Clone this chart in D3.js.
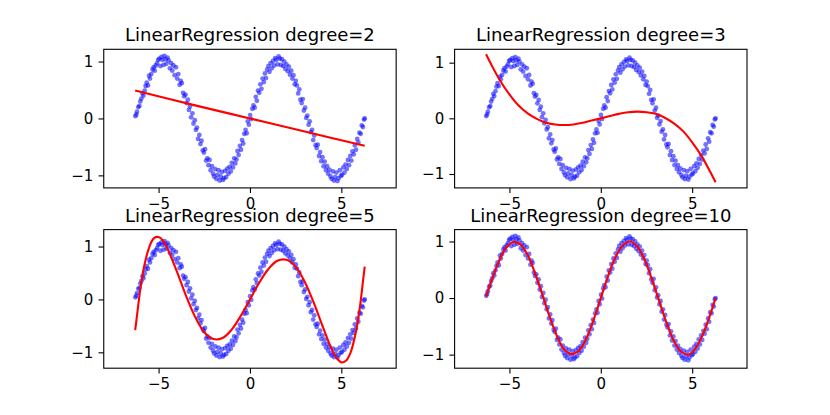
<!DOCTYPE html>
<html><head><meta charset="utf-8">
<script src="https://cdn.jsdelivr.net/npm/d3@7"></script>
<style>body{margin:0;background:#fff}svg{display:block}text{font-family:"DejaVu Sans",sans-serif}</style>
</head><body><svg id="c" width="830" height="415"></svg>
<script>
// ---- data ----
const pointX = [-6.27,-6.22,-6.18,-6.11,-6.05,-6.00,-5.94,-5.88,-5.83,-5.76,-5.71,-5.65,-5.58,-5.52,-5.47,-5.40,-5.33,-5.27,-5.21,-5.15,-5.08,-5.02,-4.96,-4.90,-4.84,-4.79,-4.73,-4.68,-4.62,-4.57,-4.51,-4.45,-4.38,-4.31,-4.25,-4.19,-4.12,-4.05,-3.98,-3.92,-3.85,-3.79,-3.73,-3.66,-3.60,-3.53,-3.47,-3.40,-3.34,-3.28,-3.22,-3.15,-3.09,-3.02,-2.96,-2.90,-2.84,-2.77,-2.71,-2.65,-2.58,-2.52,-2.46,-2.40,-2.33,-2.27,-2.21,-2.15,-2.08,-2.02,-1.96,-1.90,-1.84,-1.78,-1.72,-1.66,-1.60,-1.54,-1.48,-1.42,-1.36,-1.30,-1.24,-1.18,-1.11,-1.05,-0.99,-0.93,-0.86,-0.80,-0.74,-0.68,-0.62,-0.55,-0.49,-0.43,-0.37,-0.31,-0.24,-0.18,-0.12,-0.06,0.01,0.07,0.13,0.19,0.26,0.32,0.38,0.44,0.51,0.57,0.63,0.69,0.76,0.82,0.88,0.94,1.01,1.07,1.13,1.19,1.26,1.32,1.38,1.44,1.51,1.57,1.63,1.69,1.75,1.82,1.88,1.94,2.00,2.07,2.13,2.19,2.26,2.32,2.38,2.45,2.51,2.57,2.64,2.70,2.76,2.83,2.89,2.95,3.02,3.08,3.14,3.21,3.27,3.33,3.40,3.46,3.52,3.59,3.65,3.71,3.78,3.84,3.90,3.97,4.03,4.09,4.16,4.22,4.28,4.35,4.41,4.47,4.54,4.60,4.66,4.73,4.79,4.85,4.92,4.98,5.04,5.11,5.17,5.23,5.30,5.36,5.42,5.49,5.55,5.61,5.68,5.74,5.80,5.87,5.93,5.99,6.06,6.12,6.18,6.24,6.28];
const pointY = [0.04,0.07,0.12,0.20,0.22,0.30,0.35,0.44,0.40,0.49,0.57,0.63,0.58,0.75,0.70,0.78,0.86,0.90,0.84,0.93,0.97,1.03,
  1.05,0.92,1.08,1.03,0.94,1.10,1.04,0.96,1.07,1.02,0.88,0.97,0.84,0.93,0.76,0.90,0.70,0.78,0.59,0.66,0.62,0.45,0.39,0.42,
  0.27,0.33,0.15,0.21,0.02,0.09,-0.09,-0.03,-0.20,-0.16,-0.36,-0.29,-0.45,-0.39,-0.56,-0.60,-0.54,-0.74,-0.70,-0.82,-0.73,-0.91,-0.84,-0.97,
  -1.02,-0.89,-1.06,-0.99,-0.91,-1.09,-1.02,-0.94,-1.08,-1.05,-0.92,-1.03,-0.88,-0.97,-0.85,-0.93,-0.78,-0.86,-0.70,-0.79,-0.72,-0.57,-0.64,-0.48,-0.55,
  -0.38,-0.44,-0.27,-0.20,-0.26,-0.05,-0.11,0.06,-0.01,0.17,0.23,0.19,0.38,0.31,0.49,0.45,0.60,0.52,0.70,0.64,0.79,0.71,0.86,0.92,0.82,
  0.97,0.88,1.01,0.93,1.06,1.03,0.95,1.09,1.05,0.94,1.04,0.92,1.00,0.87,0.95,0.83,0.91,0.77,0.84,0.70,0.76,0.60,0.66,0.58,
  0.44,0.51,0.33,0.27,0.34,0.14,0.19,0.01,0.05,-0.11,-0.05,-0.24,-0.20,-0.38,-0.30,-0.47,-0.52,-0.46,-0.66,-0.59,-0.75,-0.68,-0.84,
  -0.76,-0.91,-0.84,-0.97,-0.90,-1.02,-1.06,-0.93,-1.09,-1.03,-0.95,-1.10,-1.05,-0.91,-1.01,-0.99,-0.86,-0.95,-0.81,-0.89,-0.73,-0.82,-0.66,
  -0.74,-0.58,-0.63,-0.47,-0.55,-0.36,-0.42,-0.25,-0.27,-0.12,-0.15,-0.02,0.00];

const degrees = [2, 3, 5, 10];
const fit2X = [-6.28, -3, 0, 3, 6.28];
const fit2Y = [0.49, 0.23, 0.0, -0.23, -0.48];
const fit3X = [-6.28,-6,-5.5,-5,-4.5,-4,-3.5,-3,-2.5,-2,-1.5,-1,-0.5,0,0.5,1,1.5,2,2.5,3,3.5,4,4.5,5,5.5,6,6.28];
const fit3Y = [1.15,0.97,0.67,0.43,0.23,0.09,-0.01,-0.08,-0.11,-0.12,-0.11,-0.08,-0.04,0,0.04,0.08,0.11,0.12,0.11,0.08,0.01,-0.09,-0.23,-0.43,-0.67,-0.97,-1.15];
const fit5X = [-6.28,-6.2,-6,-5.8,-5.5,-5.25,-5,-4.75,-4.5,-4,-3.5,-3,-2.5,-2,-1.5,-1,-0.5,0,0.5,1,1.5,2,2.5,3,3.5,4,4.5,4.75,5,5.25,5.5,5.8,6,6.2,6.28];
const fit5Y = [-0.58,-0.36,0.19,0.61,1.00,1.16,1.18,1.11,0.95,0.53,0.07,-0.33,-0.62,-0.75,-0.73,-0.57,-0.31,0,0.31,0.57,0.73,0.75,0.62,0.33,-0.07,-0.53,-0.96,-1.11,-1.19,-1.16,-1.01,-0.61,-0.19,0.39,0.62];
const fit10X = [-6.28,-6,-5.6,-5.2,-4.8,-4.4,-4,-3.6,-3.2,-2.8,-2.4,-2,-1.6,-1.2,-0.8,-0.4,0,0.4,0.8,1.2,1.6,2,2.4,2.8,3.2,3.6,4,4.4,4.8,5.2,5.6,6,6.28];
const fit10Y = [0.03,0.29,0.63,0.88,0.99,0.95,0.76,0.44,0.06,-0.33,-0.67,-0.91,-0.99,-0.93,-0.72,-0.39,0.0,0.39,0.72,0.93,1.0,0.91,0.67,0.33,-0.06,-0.44,-0.76,-0.95,-1.0,-0.88,-0.63,-0.28,0.0];

const xTicks = [-5, 0, 5];
const yTicks = [-1, 0, 1];
const xDomain = [-8, 8];
const yDomains = [[-1.22, 1.215], [-1.25, 1.24], [-1.30, 1.32], [-1.24, 1.21]];

// ---- layout ----
const svg = d3.select("#c");
const W = 292.4, H = 138.6;
const lefts = [103.75, 454.6], tops = [49.3, 229.6];
const fits = [[fit2X, fit2Y], [fit3X, fit3Y], [fit5X, fit5Y], [fit10X, fit10Y]];
const fmt = d => d < 0 ? "\u2212" + Math.abs(d) : String(d);
const pts = pointX.map((x, i) => [x, pointY[i]]);

degrees.forEach((deg, i) => {
  const col = i % 2, row = Math.floor(i / 2);
  const g = svg.append("g").attr("transform", `translate(${lefts[col]},${tops[row]})`);
  const x = d3.scaleLinear().domain(xDomain).range([0, W]);
  const y = d3.scaleLinear().domain(yDomains[i]).range([H, 0]);

  g.append("g").selectAll("circle").data(pts).join("circle")
    .attr("cx", d => x(d[0])).attr("cy", d => y(d[1])).attr("r", 2.4)
    .attr("fill", "#0000ff").attr("fill-opacity", 0.55);

  const [fx, fy] = fits[i];
  const line = d3.line().x(d => x(d[0])).y(d => y(d[1])).curve(d3.curveCatmullRom.alpha(0.5));
  g.append("path").datum(fx.map((v, k) => [v, fy[k]])).attr("d", line)
    .attr("fill", "none").attr("stroke", "#ff0000").attr("stroke-width", 2.1);

  const xa = g.append("g").attr("transform", `translate(0,${H})`)
    .call(d3.axisBottom(x).tickValues(xTicks).tickFormat(fmt).tickSize(5.2).tickPadding(5.2));
  const ya = g.append("g")
    .call(d3.axisLeft(y).tickValues(yTicks).tickFormat(fmt).tickSize(5.2).tickPadding(5.2));
  [xa, ya].forEach(a => {
    a.select(".domain").remove();
    a.selectAll("line").attr("stroke", "#000").attr("stroke-width", 1.1);
    a.selectAll("text").attr("font-size", 15).attr("fill", "#000")
      .attr("font-family", "DejaVu Sans, sans-serif");
  });

  g.append("rect").attr("width", W).attr("height", H)
    .attr("fill", "none").attr("stroke", "#000").attr("stroke-width", 1.1);

  g.append("text").attr("x", W / 2).attr("y", -8).attr("text-anchor", "middle")
    .attr("font-size", 18).attr("fill", "#000")
    .text("LinearRegression degree=" + deg);
});
</script></body></html>
